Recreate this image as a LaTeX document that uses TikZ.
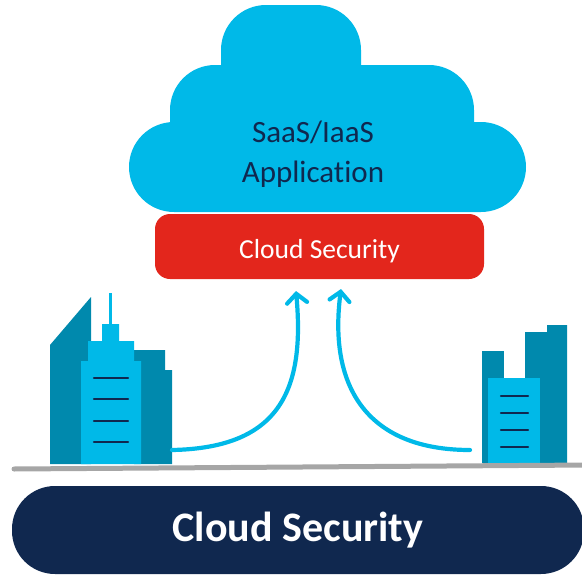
\documentclass[tikz,border=0pt]{standalone}
\usepackage{fontspec}
\setmainfont{Carlito}[Ligatures=NoCommon]
\usetikzlibrary{arrows.meta}

\definecolor{skyblue}{HTML}{00B9E8}
\definecolor{tealblue}{HTML}{0089AD}
\definecolor{navy}{HTML}{10284F}
\definecolor{alertred}{HTML}{E3261C}
\definecolor{groundgray}{HTML}{A6A6A6}

\begin{document}
\begin{tikzpicture}[
    x=1pt,
    y=-1pt,
    puff/.style={
      fill=skyblue,
      rounded corners=45pt
    },
    tower/.style={fill=tealblue},
    block/.style={fill=skyblue},
    window/.style={
      draw=navy,
      line width=2.2pt,
      line cap=round
    },
    uplink/.style={
      draw=skyblue,
      line width=4.2pt,
      line cap=round,
      -{Straight Barb[length=9pt,width=20pt,line cap=round]}
    }
  ]
    \useasboundingbox (0,0) rectangle (582,576);

    % cloud
    \fill[puff] (221,5) rectangle (361,120);
    \fill[puff] (170,65) rectangle (474,170);
    \fill[puff] (129,122) rectangle (526,212);
    \node[text=navy,align=center,font=\fontsize{31}{40}\selectfont] (app) at (313,154) {SaaS/IaaS\\Application};

    \node[fill=alertred,rounded corners=15pt,minimum width=329pt,minimum height=65pt,inner sep=0pt,
      text height=23pt,text depth=0pt,text=white,font=\fontsize{27.5}{34}\selectfont]
      (sec) at (319.5,246.5) {Cloud Security};

    % left buildings
    \fill[tower] (50,464) -- (50,345) -- (91,297) -- (91,464) -- cycle;
    \fill[tower] (134,464) |- (165,350) -- (165,370) -- (172,370) -- (172,464) -- cycle;
    \fill[block] (81,464) -- (81,361) -- (88,361) -- (88,341) -- (102,341) -- (102,324)
      -- (119,324) -- (119,341) -- (134,341) -- (134,361) -- (141,361) -- (141,464) -- cycle;
    \fill[block] (109,293) rectangle (111.5,324);
    \foreach \y in {378,399,421,442}
      \draw[window] (94,\y) -- (128,\y);

    % right buildings
    \fill[tower] (482,351) rectangle (504,463);
    \fill[tower] (525,463) |- (547,332) |- (567,325) -- (567,463) -- cycle;
    \fill[block] (488,378) rectangle (540,463);
    \foreach \y in {396,413,430,447}
      \draw[window] (501,\y) -- (528,\y);

    % ground
    \draw[groundgray,line width=5pt,line cap=round] (14,469) -- (590,465);

    \coordinate (lfoot) at (172,450);
    \coordinate (rfoot) at (470,450);
    \coordinate (ltip) at (296,291);
    \coordinate (rtip) at (341,289);
    \draw[uplink] (lfoot) .. controls (280,448) and (305,390) .. (ltip);
    \draw[uplink] (rfoot) .. controls (370,450) and (328,390) .. (rtip);

    \node[fill=navy,rounded corners=43pt,minimum width=572pt,minimum height=88pt,inner sep=0pt,
      text height=22pt,text depth=0pt,text=white,font=\bfseries\fontsize{42}{50}\selectfont]
      (banner) at (298,530) {Cloud Security};
  \end{tikzpicture}
\end{document}
